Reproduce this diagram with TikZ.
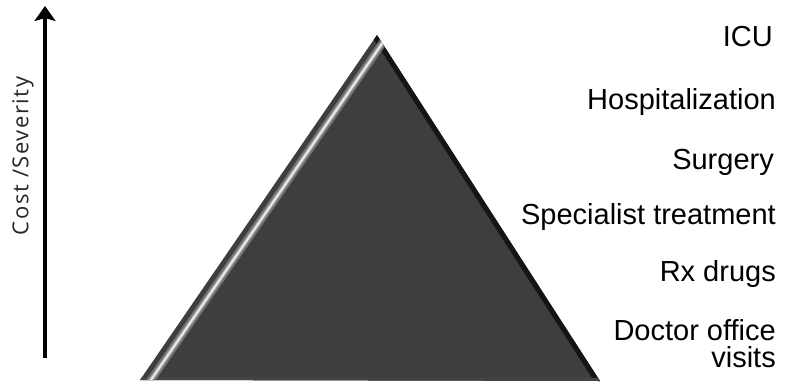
\documentclass[tikz,border=0pt]{standalone}
\usepackage{fontspec}
\setmainfont{Liberation Sans}
\newfontfamily\axisfont[LetterSpace=7]{Open Sans}
\usetikzlibrary{arrows.meta}
\definecolor{pyrfill}{HTML}{3E3E3E}
\definecolor{pyrdark}{HTML}{151515}
\definecolor{pyrlight}{HTML}{E8E8E8}
\tikzset{
  lvl/.style={anchor=base east, inner sep=0pt, font=\fontsize{29}{24}\selectfont, align=right},
  axislabel/.style={rotate=90, inner sep=0pt, font=\axisfont\fontsize{22}{24}\selectfont, text=black!85},
  axisarrow/.style={line width=4pt, -{Stealth[length=15pt,width=21pt,inset=3pt]}}
}
\begin{document}
\begin{tikzpicture}[x=1pt,y=-1pt]
\useasboundingbox (0,0) rectangle (785,383);
% axis
\coordinate (abot) at (45,358);
\coordinate (atop) at (45,6);
\draw[axisarrow] (abot) -- (atop);
\node[axislabel] (axl) at (23,156) {Cost /Severity};
% pyramid
\coordinate (apex) at (377,35);
\coordinate (bl) at (140,380);
\coordinate (br) at (600,381);
\fill[pyrfill] (apex) -- (bl) -- (br) -- cycle;
\begin{scope}
  \clip (apex) -- (bl) -- (br) -- cycle;
  \draw[pyrdark, line width=10pt] (apex) -- (br);
  \draw[pyrdark!80, line width=6pt] (bl) -- (br);
  \draw[black!55, line width=8pt] ([shift={(7.5,5)}]apex) -- ([shift={(7.5,5)}]bl);
  \draw[gray!70, line width=4pt] ([shift={(7.5,5)}]apex) -- ([shift={(7.5,5)}]bl);
  \draw[pyrlight, line width=2pt] ([shift={(7.5,5)}]apex) -- ([shift={(7.5,5)}]bl);
\end{scope}
% levels
\node[lvl] (icu) at (773,46) {ICU};
\node[lvl] (hosp) at (776,109) {Hospitalization};
\node[lvl] (surg) at (774,169) {Surgery};
\node[lvl] (spec) at (776,224) {Specialist treatment};
\node[lvl] (rx) at (776,281) {Rx drugs};
\node[lvl] (doc) at (776,340) {Doctor office};
\node[lvl] (vis) at (776,367) {visits};
\end{tikzpicture}
\end{document}
